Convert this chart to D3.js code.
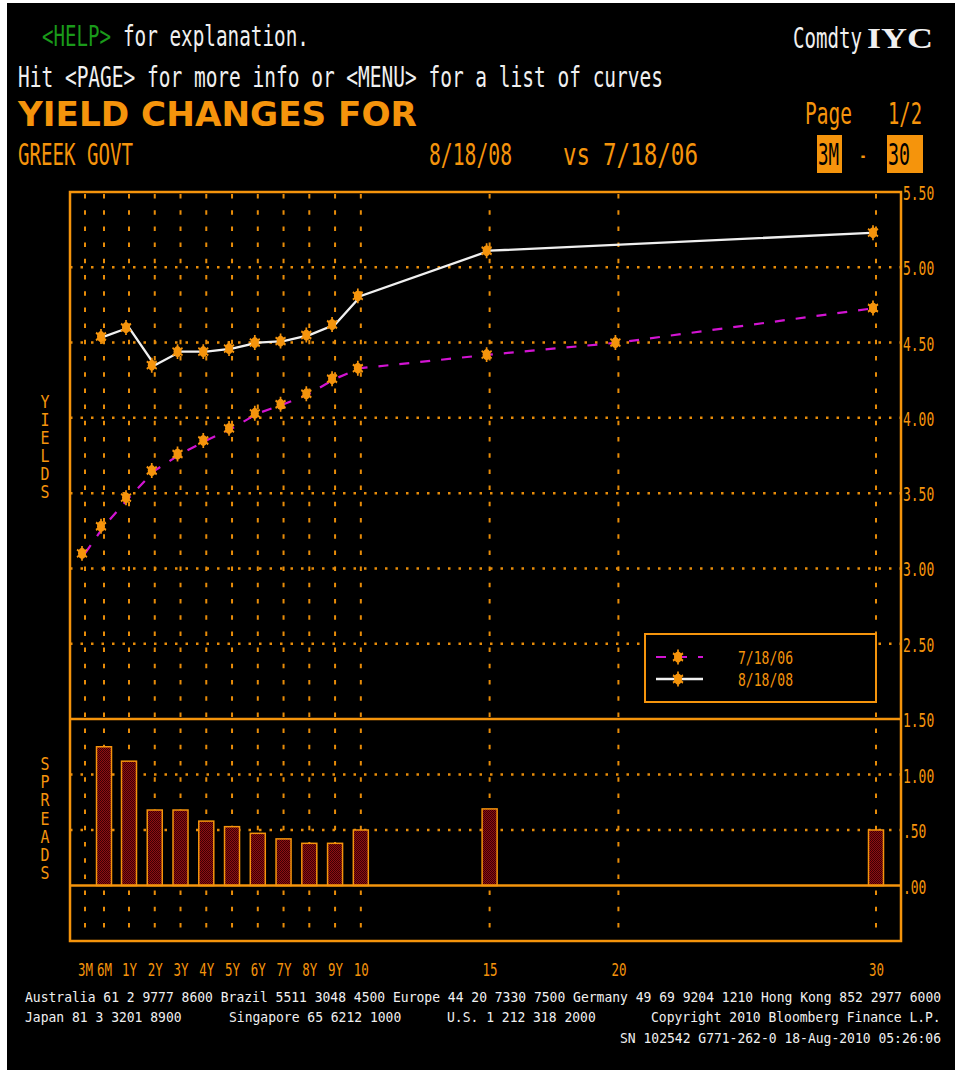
<!DOCTYPE html>
<html><head><meta charset="utf-8">
<script src="https://cdn.jsdelivr.net/npm/d3@7"></script>
<style>html,body{margin:0;padding:0;background:#fff;}svg{display:block;}</style>
</head><body>
<script>
// ---------- data ----------
const tenorLabels = ["3M","6M","1Y","2Y","3Y","4Y","5Y","6Y","7Y","8Y","9Y","10","15","20","30"];
const tenorYears  = [0.25,0.5,1,2,3,4,5,6,7,8,9,10,15,20,30];
const curve060718 = [3.10,3.28,3.47,3.65,3.76,3.85,3.93,4.03,4.09,4.16,4.26,4.33,4.42,4.50,4.73];
const curve080818 = [null,4.54,4.60,4.35,4.44,4.44,4.46,4.50,4.51,4.55,4.62,4.81,5.11,null,5.23];
const spreads     = [null,1.25,1.12,0.68,0.68,0.58,0.53,0.47,0.42,0.38,0.38,0.50,0.69,null,0.50];
const yieldTicks  = [5.5,5.0,4.5,4.0,3.5,3.0,2.5];
const yieldGrid   = [5.0,4.5,4.0,3.5,3.0,2.5];
const spreadTicks = [1.5,1.0,0.5,0.0];
const spreadGrid  = [1.0,0.5];
const legendItems = ["7/18/06","8/18/08"];

// ---------- style ----------
const ORANGE = "#f5940c", GRID = "#e88c08", WHITE = "#f0f0f0", GREEN = "#1a9a1a", MAGENTA = "#d214d2";
const MONO = "'DejaVu Sans Mono', 'Liberation Mono', monospace";
const L = 70, R = 901, T = 192, MID = 719, B = 941;

const svg = d3.select("body").append("svg").attr("width", 961).attr("height", 1074);
svg.append("rect").attr("x", 7).attr("y", 3).attr("width", 948).attr("height", 1067).attr("fill", "#000");

const defs = svg.append("defs");
const pat = defs.append("pattern").attr("id", "hatch").attr("patternUnits", "userSpaceOnUse").attr("width", 2).attr("height", 2);
pat.append("rect").attr("width", 2).attr("height", 2).attr("fill", "#8e0f12");
pat.append("rect").attr("width", 1).attr("height", 1).attr("fill", "#3c0004");
pat.append("rect").attr("x", 1).attr("y", 1).attr("width", 1).attr("height", 1).attr("fill", "#3c0004");

function txt(x, y, s, size, width, color, opts = {}) {
  const t = svg.append("text").attr("x", x).attr("y", y).text(s)
    .attr("font-family", opts.family || MONO).attr("font-size", size)
    .attr("fill", color).attr("font-weight", opts.weight || "normal")
    .attr("text-anchor", opts.anchor || "start");
  if (width) t.attr("textLength", width).attr("lengthAdjust", "spacingAndGlyphs");
  return t;
}

// ---------- header ----------
txt(42, 46, "<HELP>", 29, 69, GREEN);
txt(123, 46, "for explanation.", 29, 186, WHITE);
txt(18, 87, "Hit <PAGE> for more info or <MENU> for a list of curves", 29, 645, WHITE);
txt(793, 48, "Comdty", 28, 69, WHITE);
txt(867, 48, "IYC", 30, 66, WHITE, {family: "'Liberation Serif', 'DejaVu Serif', serif", weight: "bold"});
txt(18, 126, "YIELD CHANGES FOR", 34, 399, ORANGE, {family: "'DejaVu Sans', sans-serif", weight: "bold"});
txt(805, 124, "Page", 30, 47, ORANGE);
txt(888, 124, "1/2", 30, 34, ORANGE);
txt(18, 165, "GREEK GOVT", 31, 115, ORANGE);
txt(429, 165, "8/18/08", 31, 83, ORANGE);
txt(563, 165, "vs", 31, 27, ORANGE);
txt(603, 165, "7/18/06", 31, 95, ORANGE);
svg.append("rect").attr("x", 817).attr("y", 135).attr("width", 25).attr("height", 38).attr("fill", ORANGE);
txt(818, 165, "3M", 30, 21, "#000");
txt(859, 165, "-", 30, 8, ORANGE);
svg.append("rect").attr("x", 887).attr("y", 135).attr("width", 36).attr("height", 38).attr("fill", ORANGE);
txt(888, 165, "30", 30, 22, "#000");

// ---------- scales ----------
const x = d3.scaleLinear().domain([0.25, 0.5, 1, 30]).range([85, 104, 129, 876]);
const y = d3.scaleLinear().domain([2.0, 5.5]).range([MID, T]);
const ys = d3.scaleLinear().domain([-0.5, 1.5]).range([B, MID]);

// ---------- grid ----------
const g = svg.append("g");
g.selectAll(".vg").data(tenorYears).join("line")
  .attr("x1", d => x(d)).attr("x2", d => x(d)).attr("y1", T + 2).attr("y2", B - 2)
  .attr("stroke", GRID).attr("stroke-width", 2).attr("stroke-dasharray", "4.5,11.7");
g.selectAll(".hg").data(yieldGrid).join("line")
  .attr("x1", L).attr("x2", R).attr("y1", d => y(d)).attr("y2", d => y(d))
  .attr("stroke", GRID).attr("stroke-width", 2.5).attr("stroke-dasharray", "2.5,8");
g.selectAll(".hs").data(spreadGrid).join("line")
  .attr("x1", L).attr("x2", R).attr("y1", d => ys(d)).attr("y2", d => ys(d))
  .attr("stroke", GRID).attr("stroke-width", 2.5).attr("stroke-dasharray", "2.5,8");

// ---------- bars ----------
const barData = tenorYears.map((t, i) => ({t, v: spreads[i]})).filter(d => d.v != null);
svg.append("g").selectAll("rect").data(barData).join("rect")
  .attr("x", d => x(d.t) - 7.5).attr("width", 15)
  .attr("y", d => ys(d.v)).attr("height", d => ys(0) - ys(d.v))
  .attr("fill", "url(#hatch)").attr("stroke", ORANGE).attr("stroke-width", 1.5);

// ---------- frame ----------
svg.append("rect").attr("x", L).attr("y", T).attr("width", R - L).attr("height", B - T)
  .attr("fill", "none").attr("stroke", ORANGE).attr("stroke-width", 2.5);
svg.append("line").attr("x1", L).attr("x2", R).attr("y1", MID).attr("y2", MID).attr("stroke", ORANGE).attr("stroke-width", 2.5);
svg.append("line").attr("x1", L).attr("x2", R).attr("y1", ys(0)).attr("y2", ys(0)).attr("stroke", ORANGE).attr("stroke-width", 2.5);

// ---------- lines ----------
const pts06 = tenorYears.map((t, i) => ({t, v: curve060718[i]})).filter(d => d.v != null);
const pts08 = tenorYears.map((t, i) => ({t, v: curve080818[i]})).filter(d => d.v != null);
const line = d3.line().x(d => x(d.t)).y(d => y(d.v));
svg.append("path").datum(pts06).attr("d", line).attr("fill", "none")
  .attr("stroke", MAGENTA).attr("stroke-width", 2.2).attr("stroke-dasharray", "10,11");
svg.append("path").datum(pts08).attr("d", line).attr("fill", "none")
  .attr("stroke", WHITE).attr("stroke-width", 2.3);

function marker(sel) {
  sel.append("ellipse").attr("rx", 4).attr("ry", 5.5).attr("fill", ORANGE);
  sel.append("path").attr("d", d3.symbol().type(d3.symbolAsterisk).size(130)())
    .attr("fill", "none").attr("stroke", ORANGE).attr("stroke-width", 2)
    .attr("transform", "scale(0.85,1.1)");
}
[pts06, pts08].forEach(pts => {
  svg.append("g").selectAll("g").data(pts).join("g")
    .attr("transform", d => `translate(${x(d.t) - 3},${y(d.v)})`).call(marker);
});

// ---------- axes labels ----------
const axX = svg.append("g").attr("transform", `translate(0,${963})`)
  .call(d3.axisBottom(x).tickValues(tenorYears).tickSize(0).tickFormat((d, i) => tenorLabels[i]));
axX.select(".domain").remove();
axX.selectAll("text").attr("y", 0).attr("dy", "13px").attr("font-family", MONO).attr("font-size", 18)
  .attr("fill", ORANGE).attr("lengthAdjust", "spacingAndGlyphs").attr("textLength", 15);

const fmt = d3.format(".2f");
const axY = svg.append("g").attr("transform", `translate(${903},0)`)
  .call(d3.axisRight(y).tickValues(yieldTicks).tickSize(0).tickFormat(fmt));
const axS = svg.append("g").attr("transform", `translate(${903},0)`)
  .call(d3.axisRight(ys).tickValues(spreadTicks).tickSize(0).tickFormat(d => fmt(d).replace(/^0/, "")));
[axY, axS].forEach(a => {
  a.select(".domain").remove();
  a.selectAll("text").attr("x", 0).attr("dy", "7.5px").attr("text-anchor", "start")
    .attr("font-family", MONO).attr("font-size", 20).attr("fill", ORANGE)
    .attr("lengthAdjust", "spacingAndGlyphs").attr("textLength", function() { return this.textContent.length * 7.8; });
});

// side titles
"YIELDS".split("").forEach((c, i) => txt(45, 408 + i * 18, c, 17, 9, ORANGE, {anchor: "middle"}));
"SPREADS".split("").forEach((c, i) => txt(45, 770 + i * 18.2, c, 17, 9, ORANGE, {anchor: "middle"}));

// ---------- legend ----------
svg.append("rect").attr("x", 645).attr("y", 634).attr("width", 231).attr("height", 68)
  .attr("fill", "#000").attr("stroke", ORANGE).attr("stroke-width", 2);
const legY = [657, 679];
svg.append("line").attr("x1", 656).attr("x2", 703).attr("y1", legY[0]).attr("y2", legY[0])
  .attr("stroke", MAGENTA).attr("stroke-width", 2.2).attr("stroke-dasharray", "10,11");
svg.append("line").attr("x1", 656).attr("x2", 703).attr("y1", legY[1]).attr("y2", legY[1])
  .attr("stroke", WHITE).attr("stroke-width", 2.3);
legY.forEach((ly, i) => {
  svg.append("g").attr("transform", `translate(678,${ly})`).call(marker);
  txt(738, ly + 6.5, legendItems[i], 18, 55, ORANGE);
});

// ---------- footer ----------
const CW = 7.83, FS = 14;
function foot(xx, yy, s) { txt(xx, yy, s, FS, s.length * CW, WHITE); }
foot(25, 1002, "Australia 61 2 9777 8600 Brazil 5511 3048 4500 Europe 44 20 7330 7500 Germany 49 69 9204 1210 Hong Kong 852 2977 6000");
foot(25, 1022, "Japan 81 3 3201 8900");
foot(229, 1022, "Singapore 65 6212 1000");
foot(447, 1022, "U.S. 1 212 318 2000");
foot(651, 1022, "Copyright 2010 Bloomberg Finance L.P.");
foot(620, 1043, "SN 102542 G771-262-0 18-Aug-2010 05:26:06");
</script>
</body></html>
